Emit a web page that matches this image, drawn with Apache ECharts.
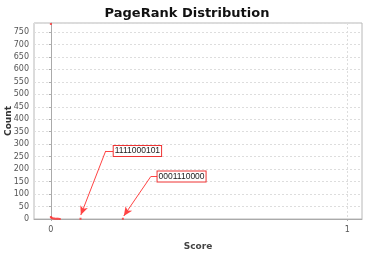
<!DOCTYPE html>
<html><head><meta charset="utf-8">
<script src="https://cdn.jsdelivr.net/npm/echarts@6/dist/echarts.min.js"></script>
<style>html,body{margin:0;padding:0;background:#fff;}#c{width:382px;height:254px;}</style>
</head><body><div id="c"></div>
<script>
var titleText = 'PageRank Distribution';
var xName = 'Score';
var yName = 'Count';
// scatter points [score, count]
var scores = [0, 0, 0.002, 0.005, 0.01, 0.015, 0.02, 0.025, 0.03, 0.1, 0.243];
var counts = [782, 8, 5, 3, 2, 1, 1, 1, 0, 1, 1];
var xTickValues = [0, 1];
var yMax = 786;
var yInterval = 50;
var xMin = -0.057, xMax = 1.05;
// annotations: label, elbow point, label left edge, arrow tip (data coords)
var annLabels = ['1111000101', '0001110000'];
var annElbow = [[0.185, 273], [0.337, 170]];
var annBoxLeft = [[0.212, 273], [0.360, 170]];
var annTip = [[0.101, 16], [0.246, 12]];

var chart = echarts.init(document.getElementById('c'), null, {renderer: 'canvas'});
var font = 'DejaVu Sans';
var pts = scores.map(function (s, i) { return [s, counts[i]]; });
var lines = [];
annLabels.forEach(function (l, i) {
  lines.push([{coord: annBoxLeft[i], symbol: 'none'}, {coord: annElbow[i], symbol: 'none'}]);
  lines.push([{coord: annElbow[i], symbol: 'none'}, {coord: annTip[i], symbol: 'arrow', symbolSize: [6, 9]}]);
});
var mps = annLabels.map(function (l, i) {
  return {coord: annBoxLeft[i], value: l};
});
chart.setOption({
  animation: false,
  title: {text: titleText, left: 182, top: 2, textAlign: 'center',
    textStyle: {fontFamily: font, fontWeight: 'bold', fontSize: 13, color: '#111'}},
  grid: {left: 34, right: 20, top: 23, bottom: 35, containLabel: false, outerBoundsMode: 'none',
    show: true, borderColor: '#b8b8b8', borderWidth: 1, backgroundColor: '#fff'},
  xAxis: {type: 'value', min: xMin, max: xMax, offset: 3,
    name: xName, nameLocation: 'middle', nameGap: 20, nameMoveOverlap: false,
    nameTextStyle: {fontFamily: font, fontWeight: 'bold', fontSize: 9, color: '#444'},
    axisLine: {show: true, lineStyle: {color: '#aaa', width: 1}},
    axisTick: {show: true, customValues: xTickValues, length: 2, lineStyle: {color: '#aaa'}},
    axisLabel: {customValues: xTickValues, fontFamily: font, fontSize: 8, color: '#555', margin: 4},
    splitLine: {show: true, lineStyle: {color: '#ddd', type: [2, 2], width: 1}}
  },
  yAxis: {type: 'value', min: 0, max: yMax, interval: yInterval, offset: 2,
    name: yName, nameLocation: 'middle', nameGap: 19, nameRotate: 90, nameMoveOverlap: false,
    nameTextStyle: {fontFamily: font, fontWeight: 'bold', fontSize: 9, color: '#333'},
    axisLine: {show: true, lineStyle: {color: '#aaa', width: 1}},
    axisTick: {show: true, length: 2, lineStyle: {color: '#aaa'}},
    axisLabel: {fontFamily: font, fontSize: 8, color: '#555', margin: 3, showMaxLabel: false},
    splitLine: {show: true, lineStyle: {color: '#ddd', type: [2, 2], width: 1}}
  },
  series: [{
    type: 'scatter', data: pts, symbol: 'rect', symbolSize: 2,
    itemStyle: {color: '#ff3333'},
    markLine: {silent: true, symbol: 'none', label: {show: false},
      lineStyle: {color: '#ff4444', width: 1, type: 'solid'}, data: lines},
    markPoint: {silent: true, symbol: 'rect', symbolSize: 0,
      label: {show: true, position: 'right', distance: 0, formatter: '{c}',
        fontFamily: 'Liberation Sans', fontSize: 8.5, color: '#222', backgroundColor: '#fff',
        borderColor: '#ee3333', borderWidth: 1, padding: [1, 1, 0, 1]},
      data: mps}
  }]
});
</script></body></html>
